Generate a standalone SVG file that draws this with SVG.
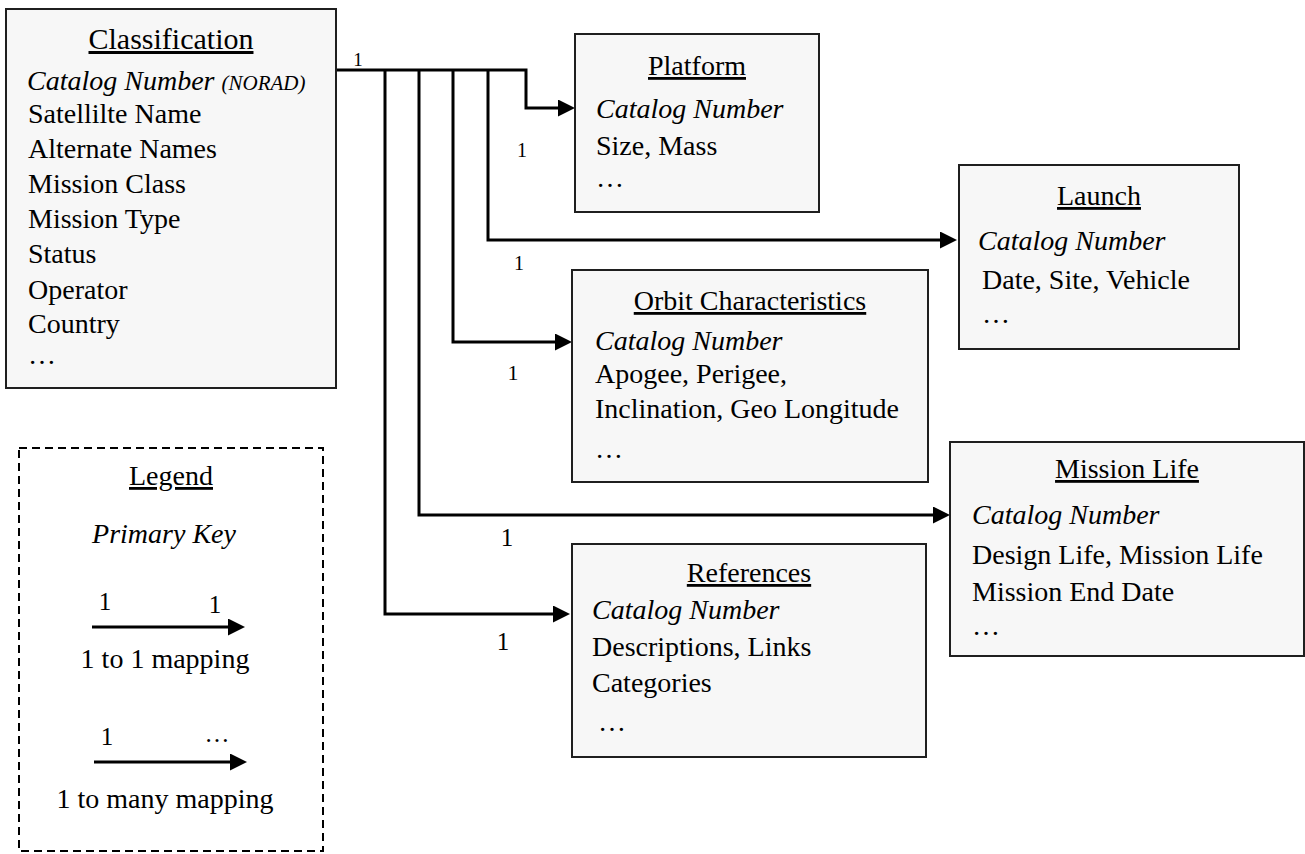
<svg xmlns="http://www.w3.org/2000/svg" width="1305" height="854" viewBox="0 0 1305 854">
<defs>
<style>
text{font-family:"Liberation Serif","Times New Roman",serif;font-size:28px;fill:#000}
.t{text-anchor:middle;text-decoration:underline}
.i{font-style:italic}
.box{fill:#f7f7f7;stroke:#1f1f1f;stroke-width:2}
.c{fill:none;stroke:#000;stroke-width:3}
.lbl{text-anchor:middle}
</style>
<marker id="ah" markerUnits="userSpaceOnUse" markerWidth="17" markerHeight="17" refX="2" refY="8.5" orient="auto">
<path d="M0,0 L17,8.5 L0,17 Z" fill="#000"/>
</marker>
</defs>
<rect width="1305" height="854" fill="#fff"/>

<g id="connectors">
<path class="c" d="M336,70 H526 V108 H560" marker-end="url(#ah)"/>
<path class="c" d="M488,70 V240 H942" marker-end="url(#ah)"/>
<path class="c" d="M453,70 V342 H557" marker-end="url(#ah)"/>
<path class="c" d="M419,70 V515 H935" marker-end="url(#ah)"/>
<path class="c" d="M385,70 V614 H555" marker-end="url(#ah)"/>
<text class="lbl" x="358" y="66" style="font-size:19px">1</text>
<text class="lbl" x="522" y="157" style="font-size:20px">1</text>
<text class="lbl" x="519" y="270" style="font-size:20px">1</text>
<text class="lbl" x="513" y="380" style="font-size:22px">1</text>
<text class="lbl" x="507" y="546" style="font-size:25px">1</text>
<text class="lbl" x="503" y="650" style="font-size:25px">1</text>
</g>

<g id="classification">
<rect class="box" x="6" y="9" width="330" height="379"/>
<text class="t" x="171" y="49" style="font-size:30px">Classification</text>
<text class="i" x="27" y="90">Catalog Number <tspan style="font-size:21px">(NORAD)</tspan></text>
<text x="28" y="122.5">Satellilte Name</text>
<text x="28" y="157.5">Alternate Names</text>
<text x="28" y="192.5">Mission Class</text>
<text x="28" y="227.5">Mission Type</text>
<text x="28" y="263">Status</text>
<text x="28" y="298.5">Operator</text>
<text x="28" y="333">Country</text>
<text x="28" y="364">…</text>
</g>

<g id="platform">
<rect class="box" x="575" y="34" width="244" height="178"/>
<text class="t" x="697" y="75">Platform</text>
<text class="i" x="596" y="118">Catalog Number</text>
<text x="596" y="155">Size, Mass</text>
<text x="596" y="187">…</text>
</g>

<g id="launch">
<rect class="box" x="959" y="165" width="280" height="184"/>
<text class="t" x="1099" y="205">Launch</text>
<text class="i" x="978" y="250">Catalog Number</text>
<text x="982" y="289">Date, Site, Vehicle</text>
<text x="982" y="323">…</text>
</g>

<g id="orbit">
<rect class="box" x="572" y="270" width="356" height="212"/>
<text class="t" x="750" y="310">Orbit Characteristics</text>
<text class="i" x="595" y="350">Catalog Number</text>
<text x="595" y="383">Apogee, Perigee,</text>
<text x="595" y="418">Inclination, Geo Longitude</text>
<text x="595" y="458">…</text>
</g>

<g id="mission-life">
<rect class="box" x="950" y="442" width="354" height="214"/>
<text class="t" x="1127" y="478">Mission Life</text>
<text class="i" x="972" y="524">Catalog Number</text>
<text x="972" y="564">Design Life, Mission Life</text>
<text x="972" y="601">Mission End Date</text>
<text x="972" y="635">…</text>
</g>

<g id="references">
<rect class="box" x="572" y="544" width="354" height="213"/>
<text class="t" x="749" y="582">References</text>
<text class="i" x="592" y="619">Catalog Number</text>
<text x="592" y="656">Descriptions, Links</text>
<text x="592" y="692">Categories</text>
<text x="598" y="731">…</text>
</g>

<g id="legend">
<rect x="19" y="448" width="304" height="403" fill="none" stroke="#000" stroke-width="2" stroke-dasharray="8,5"/>
<text class="t" x="171" y="485">Legend</text>
<text class="i lbl" x="164" y="543">Primary Key</text>
<text class="lbl" x="105" y="610" style="font-size:25px">1</text>
<text class="lbl" x="215" y="613" style="font-size:25px">1</text>
<path class="c" d="M92,627 H230" marker-end="url(#ah)"/>
<text class="lbl" x="165" y="668">1 to 1 mapping</text>
<text class="lbl" x="107" y="745" style="font-size:25px">1</text>
<text class="lbl" x="217" y="742" style="font-size:25px">…</text>
<path class="c" d="M94,762 H232" marker-end="url(#ah)"/>
<text class="lbl" x="165" y="808">1 to many mapping</text>
</g>
</svg>
